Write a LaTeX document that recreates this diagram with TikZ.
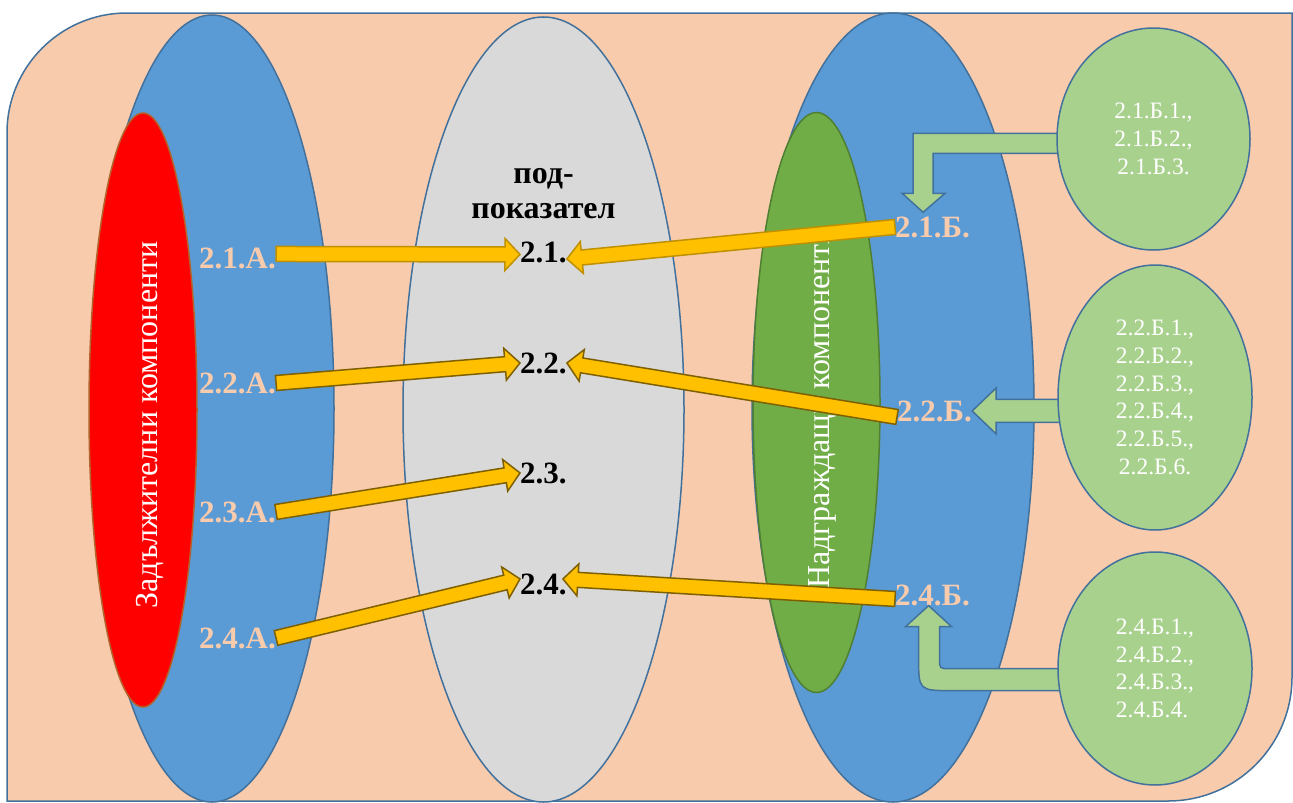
\documentclass[tikz,border=0pt]{standalone}
\usepackage{fontspec}
\setmainfont{Liberation Serif}
\usetikzlibrary{calc, shapes.geometric}

\definecolor{peach}{HTML}{F8CBAD}
\definecolor{edgeblue}{HTML}{41719C}
\definecolor{midblue}{HTML}{5B9BD5}
\definecolor{lightgrey}{HTML}{D9D9D9}
\definecolor{redline}{HTML}{B4622B}
\definecolor{leafgreen}{HTML}{70AD47}
\definecolor{leafline}{HTML}{507E32}
\definecolor{lightgreen}{HTML}{A9D18E}
\definecolor{gold}{HTML}{FFC000}
\definecolor{darkgold}{HTML}{7F6000}
\definecolor{lightgold}{HTML}{BF9000}

% block arrow: [style]{from}{to}{half shaft}{half head}{head length}
\newcommand{\blockarrow}[6][]{%
    \coordinate (hb) at ($(#3)!#6!(#2)$);
    \draw[#1] ($(#2)!#4!90:(#3)$) -- ($(hb)!#4!-90:(#2)$) -- ($(hb)!#5!-90:(#2)$)
        -- (#3) -- ($(hb)!#5!90:(#2)$) -- ($(hb)!#4!90:(#2)$) -- ($(#2)!#4!-90:(#3)$) -- cycle;
}

\begin{document}
\begin{tikzpicture}[
        x=1pt, y=-1pt,
        blob/.style={ellipse, draw=edgeblue, line width=1.5pt, inner sep=0pt},
        numlbl/.style={font=\fontsize{31}{36}\selectfont\bfseries, inner sep=0pt, anchor=base west},
        sidetxt/.style={font=\fontsize{32}{38}\selectfont, text=white, rotate=90, inner sep=0pt},
        subtxt/.style={font=\fontsize{23.5}{27.7}\selectfont, text=white, align=center},
        yarrow/.style={fill=gold, draw=#1, line width=1.5pt},
        yarrow/.default=darkgold,
        garrow/.style={fill=lightgreen, draw=edgeblue, line width=1.5pt}
    ]
    \useasboundingbox (0,0) rectangle (1293,803);

    % Background panel
    \draw[fill=peach, draw=edgeblue, line width=1.5pt]
        (7,801) -- (7,133) .. controls (7,66.7) and (60.7,13) .. (127,13)
        -- (1292,13) -- (1292,677) .. controls (1292,745.5) and (1236.5,801) .. (1168,801) -- cycle;

    % Big ellipses
    \node[blob, fill=midblue, minimum width=244pt, minimum height=787pt] (lblue) at (212,408.5) {};
    \node[blob, fill=red, draw=redline, minimum width=108pt, minimum height=594pt] (oblig) at (143,410) {};
    \node[blob, fill=lightgrey, minimum width=281pt, minimum height=785pt] (sub) at (543.5,409.5) {};
    \node[blob, fill=midblue, minimum width=282pt, minimum height=789pt] (rblue) at (893,407.5) {};
    \node[blob, fill=leafgreen, draw=leafline, minimum width=127pt, minimum height=580pt] (extra) at (816.5,402.5) {};

    % Vertical titles
    \node[sidetxt] (obligtxt) at (150,425) {Задължителни компоненти};
    \node[sidetxt] (extratxt) at (822,408) {Надграждащи компоненти};
    \node[font=\fontsize{32}{35}\selectfont\bfseries, align=center, inner sep=0pt] (subtxt) at (543.5,194) {под-\\показател};

    % Labels
    \node[numlbl, text=peach] (a1) at (199,268) {2.1.А.};
    \node[numlbl, text=peach] (a2) at (199,393) {2.2.А.};
    \node[numlbl, text=peach] (a3) at (199,522) {2.3.А.};
    \node[numlbl, text=peach] (a4) at (199,648) {2.4.А.};
    \node[numlbl] (s1) at (520,262) {2.1.};
    \node[numlbl] (s2) at (520,373) {2.2.};
    \node[numlbl] (s3) at (520,483) {2.3.};
    \node[numlbl] (s4) at (520,594) {2.4.};
    \node[numlbl, text=peach] (b1) at (895,237) {2.1.Б.};
    \node[numlbl, text=peach] (b2) at (897,421) {2.2.Б.};
    \node[numlbl, text=peach] (b4) at (895,605) {2.4.Б.};

    % Yellow arrows
    \blockarrow[yarrow=lightgold]{[yshift=4pt]a1.east}{[yshift=-2.5pt]s1.west}{7.5pt}{16pt}{15pt}
    \blockarrow[yarrow]{a2.east}{s2.west}{7.5pt}{16pt}{15pt}
    \blockarrow[yarrow]{a3.east}{s3.west}{7.5pt}{16pt}{15pt}
    \blockarrow[yarrow]{a4.east}{[yshift=5pt]s4.west}{7.5pt}{16pt}{15pt}
    \blockarrow[yarrow=lightgold]{b1.west}{[yshift=-7pt]s1.east}{7.5pt}{16pt}{15pt}
    \blockarrow[yarrow]{[yshift=-6pt]b2.west}{s2.east}{7.5pt}{16pt}{15pt}
    \blockarrow[yarrow]{[yshift=-4pt]b4.west}{[xshift=-4pt,yshift=5pt]s4.east}{7.5pt}{16pt}{15pt}

    % Green arrows
    \coordinate (t21) at ($(b1.north)+(-9.5,-4)$);
    \draw[garrow, shift={(t21)}] (0,0) -- (22,-19) -- (10,-19) -- (10,-59) -- (147,-59)
        -- (147,-79) -- (-10,-79) -- (-10,-19) -- (-21,-19) -- cycle;
    \coordinate (f22) at ($(b2.east)+(100,0)$);
    \blockarrow[garrow]{f22}{b2.east}{11.5pt}{23pt}{24pt}
    \coordinate (t24) at ($(b4.south)+(-4,0)$);
    \draw[garrow, shift={(t24)}] (0,0) -- (23,21) -- (11,21) -- (11,53) .. controls (11,63) .. (21,63)
        -- (142,63) -- (142,85) -- (24,85) .. controls (-10,85) .. (-10,51) -- (-10,21) -- (-23,21) -- cycle;

    % Sub-component circles
    \node[blob, fill=lightgreen, subtxt, minimum width=193pt, minimum height=222pt] (g21) at (1153.5,139)
        {2.1.Б.1.,\\2.1.Б.2.,\\2.1.Б.3.};
    \node[blob, fill=lightgreen, subtxt, minimum width=194pt, minimum height=265pt] (g22) at (1155,397.5)
        {2.2.Б.1.,\\2.2.Б.2.,\\2.2.Б.3.,\\2.2.Б.4.,\\2.2.Б.5.,\\2.2.Б.6.};
    \node[blob, fill=lightgreen, subtxt, align=left, minimum width=194pt, minimum height=233pt] (g24) at (1155,668.5)
        {2.4.Б.1.,\\2.4.Б.2.,\\2.4.Б.3.,\\2.4.Б.4.};
\end{tikzpicture}
\end{document}
